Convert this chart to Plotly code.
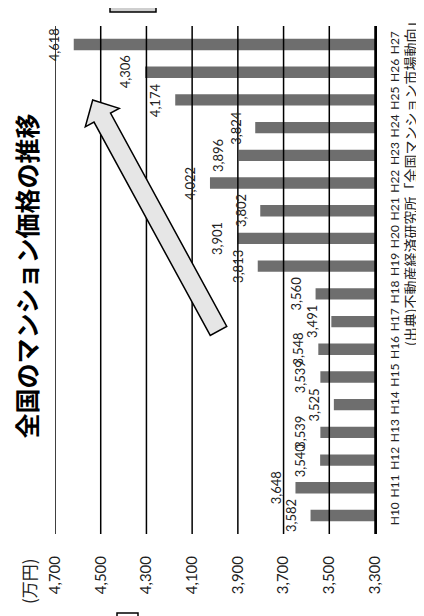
import math
import plotly.graph_objects as go

# ---- data ----
categories = ["H10", "H11", "H12", "H13", "H14", "H15", "H16", "H17", "H18",
              "H19", "H20", "H21", "H22", "H23", "H24", "H25", "H26", "H27"]
# bar lengths as drawn
bar_values = [3582, 3648, 3540, 3539, 3480, 3539, 3548, 3491, 3560,
              3813, 3901, 3802, 4022, 3896, 3824, 4174, 4306, 4618]
# data labels as printed
label_values = [3582, 3648, 3540, 3539, 3525, 3539, 3548, 3491, 3560,
                3813, 3901, 3802, 4022, 3896, 3824, 4174, 4306, 4618]
tick_values = [3300, 3500, 3700, 3900, 4100, 4300, 4500, 4700]

title_text = "全国のマンション価格の推移"
unit_text = "(万円)"
source_text = "(出典)不動産経済研究所「全国マンション市場動向」"

# page is 424x616; the html body adds an 8px margin, so the figure is offset
OFF = 8
W, H = 424 - OFF, 616 - OFF
# plot area in page pixels: x 55..375, y 26..534
ML, MR, MT, MB = 55 - OFF, 424 - 375, 26 - OFF, 616 - 534
PW, PH = W - ML - MR, H - MT - MB

LAT = "Lato, 'Open Sans', sans-serif"
JP = "'Noto Sans CJK JP', sans-serif"


def px2paper(x, y):
    """page pixel -> paper coordinates"""
    return (x - OFF - ML) / PW, (H - MB - (y - OFF)) / PH


fig = go.Figure()
fig.add_trace(go.Bar(
    x=bar_values, y=categories, orientation="h",
    marker=dict(color="#6e6e6e", line=dict(width=0)),
    hoverinfo="skip",
))

# data labels
for cat, bv, lv in zip(categories, bar_values, label_values):
    fig.add_annotation(
        x=bv, y=cat, xref="x", yref="y",
        text=f"{lv:,}", showarrow=False, textangle=-90,
        xanchor="right", yanchor="middle", xshift=-10,
        font=dict(family=LAT, size=13, color="#222"),
    )

# gridlines drawn over the bars
for v in tick_values:
    fig.add_shape(type="line", xref="x", yref="paper", x0=v, x1=v, y0=0, y1=1,
                  line=dict(color="black", width=1.5), layer="above")

# title, unit, source
tx, ty = px2paper(25.5, 276)
fig.add_annotation(x=tx, y=ty, xref="paper", yref="paper", text=f"<b>{title_text}</b>",
                   showarrow=False, textangle=-90, xanchor="center", yanchor="middle",
                   font=dict(family=JP, size=25, color="black"))
ux, uy = px2paper(28, 581)
fig.add_annotation(x=ux, y=uy, xref="paper", yref="paper", text=unit_text,
                   showarrow=False, textangle=-90, xanchor="center", yanchor="middle",
                   font=dict(family=JP, size=17, color="#222"))
sx, sy = px2paper(410, 181)
fig.add_annotation(x=sx, y=sy, xref="paper", yref="paper", text=source_text,
                   showarrow=False, textangle=-90, xanchor="center", yanchor="middle",
                   font=dict(family=JP, size=14, color="#222"))

# decorative block arrow (page pixels)
tail = (218.5, 331.0)
tip = (92.7, 100.0)
dx, dy = tip[0] - tail[0], tip[1] - tail[1]
L = math.hypot(dx, dy)
ux_, uy_ = dx / L, dy / L
nx_, ny_ = -uy_, ux_
hw, bw, hl = 9.4, 19.3, 20.0
bx, by = tail[0] + ux_ * (L - hl), tail[1] + uy_ * (L - hl)
pts = [
    (tail[0] - nx_ * hw, tail[1] - ny_ * hw),
    (bx - nx_ * hw, by - ny_ * hw),
    (bx - nx_ * bw, by - ny_ * bw),
    tip,
    (bx + nx_ * bw, by + ny_ * bw),
    (bx + nx_ * hw, by + ny_ * hw),
    (tail[0] + nx_ * hw, tail[1] + ny_ * hw),
]
path = "M " + " L ".join(
    "{:.4f},{:.4f}".format(*px2paper(x, y)) for x, y in pts) + " Z"
fig.add_shape(type="path", xref="paper", yref="paper", path=path,
              fillcolor="#e6e6e6", line=dict(color="black", width=1.5), layer="above")

# partially visible boxes at the edges
x0, y0 = px2paper(110, -10)
x1, y1 = px2paper(156, 12)
fig.add_shape(type="rect", xref="paper", yref="paper", x0=x0, y0=y0, x1=x1, y1=y1,
              fillcolor="#cfcfcf", line=dict(color="black", width=1.5), layer="above")
x0, y0 = px2paper(117, 613)
x1, y1 = px2paper(138, 630)
fig.add_shape(type="rect", xref="paper", yref="paper", x0=x0, y0=y0, x1=x1, y1=y1,
              fillcolor="white", line=dict(color="black", width=1.5), layer="above")

fig.update_layout(
    width=W, height=H,
    margin=dict(l=ML, r=MR, t=MT, b=MB),
    paper_bgcolor="white", plot_bgcolor="white",
    showlegend=False, bargap=0.59,
    xaxis=dict(range=[4700, 3300], tickvals=tick_values, tickformat=",d",
               showgrid=False, zeroline=False, showline=False, ticks="",
               tickangle=-90, ticklabelstandoff=18,
               tickfont=dict(family=LAT, size=15, color="#222")),
    yaxis=dict(side="right", showgrid=False, zeroline=False, showline=True,
               linecolor="black", linewidth=2, ticks="", tickangle=-90,
               ticklabelstandoff=8,
               tickfont=dict(family=LAT, size=12, color="#222")),
)

fig.write_html("out.html")
